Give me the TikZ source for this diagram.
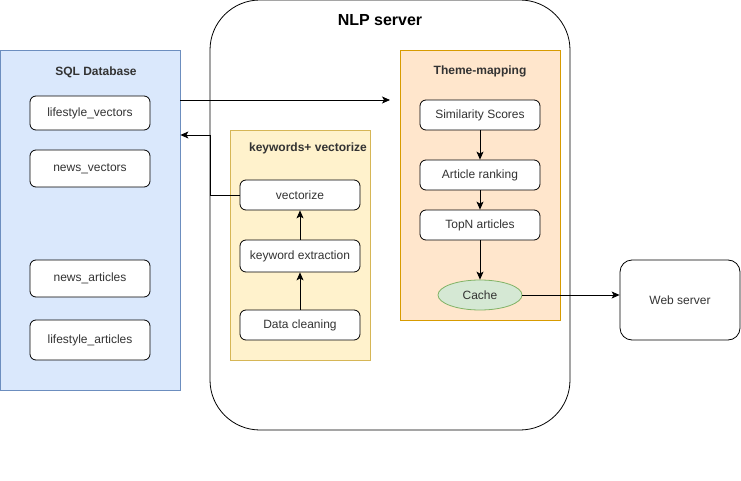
\documentclass[tikz,border=0pt]{standalone}
\usepackage{fontspec}
\setmainfont{Liberation Sans}
\usepackage{tikz}
\usetikzlibrary{arrows.meta}
\usetikzlibrary{shapes.geometric}

\definecolor{sqlfill}{HTML}{DAE8FC}
\definecolor{sqlline}{HTML}{6C8EBF}
\definecolor{kwfill}{HTML}{FFF2CC}
\definecolor{kwline}{HTML}{D6B656}
\definecolor{tmfill}{HTML}{FFE6CC}
\definecolor{tmline}{HTML}{D79B00}
\definecolor{cachefill}{HTML}{D5E8D4}
\definecolor{cacheline}{HTML}{82B366}
\definecolor{txt}{HTML}{333333}

\begin{document}
\begin{tikzpicture}[
    x=1pt, y=-1pt,
    line width=0.8pt,
    font=\fontsize{12}{14}\selectfont,
    group/.style={rectangle,draw,minimum width=#1},
    item/.style={rectangle,rounded corners=6pt,draw,fill=white,text=txt,minimum width=120pt},
    title/.style={font=\fontsize{12}{14}\selectfont\bfseries,text=txt},
    arrow/.style={-{Stealth[length=8pt,width=7pt,inset=2pt]}}
]
\useasboundingbox (0,0) rectangle (741,481);

% containers
\node[draw,rounded corners=50pt,minimum width=360pt,minimum height=430pt] (nlp) at (390,215) {};
\node[font=\fontsize{16}{18}\selectfont\bfseries] (nlptitle) at (380,20) {NLP server};

\node[group=180pt,minimum height=340pt,fill=sqlfill,draw=sqlline] (sql) at (90,220) {};
\node[title] (sqltitle) at (96,72) {SQL Database};

\node[group=140pt,minimum height=230pt,fill=kwfill,draw=kwline] (kw) at (300,245) {};
\node[title] (kwtitle) at (308,148) {keywords+ vectorize};

\node[group=160pt,minimum height=270pt,fill=tmfill,draw=tmline] (tm) at (480,185) {};
\node[title] (tmtitle) at (480,71) {Theme-mapping};

% database tables
\node[item,minimum height=34pt] (lsvec) at (90,113) {lifestyle\_vectors};
\node[item,minimum height=37pt] (newsvec) at (90,168.5) {news\_vectors};
\node[item,minimum height=37pt] (newsart) at (90,278.5) {news\_articles};
\node[item,minimum height=40pt] (lsart) at (90,340) {lifestyle\_articles};

% keyword pipeline
\node[item,minimum height=30pt] (vec) at (300,195) {vectorize};
\node[item,minimum height=32pt] (kwex) at (300,256) {keyword extraction};
\node[item,minimum height=30pt] (clean) at (300,325) {Data cleaning};

% theme mapping pipeline
\node[item,minimum height=30pt] (sim) at (480,115) {Similarity Scores};
\node[item,minimum height=30pt] (rank) at (480,175) {Article ranking};
\node[item,minimum height=30pt] (topn) at (480,225) {TopN articles};
\node[ellipse,draw=cacheline,fill=cachefill,text=txt,minimum width=84pt,minimum height=30pt,inner sep=0pt] (cache) at (480,295) {Cache};

\node[item,rounded corners=12pt,minimum height=80pt] (web) at (680,300) {Web server};

% connectors
\coordinate (tmin) at (390,100);
\coordinate (back) at (210,135);
\draw[arrow] (sql.east |- tmin) -- (tmin);
\draw[arrow] (vec.west) -| (back) -- (sql.east |- back);

\draw[arrow] (clean) -- (kwex);
\draw[arrow] (kwex) -- (vec);

\draw[arrow] (sim) -- (rank);
\draw[arrow] (rank) -- (topn);
\draw[arrow] (topn) -- (cache);
\draw[arrow] (cache) -- (cache -| web.west);

\end{tikzpicture}
\end{document}
